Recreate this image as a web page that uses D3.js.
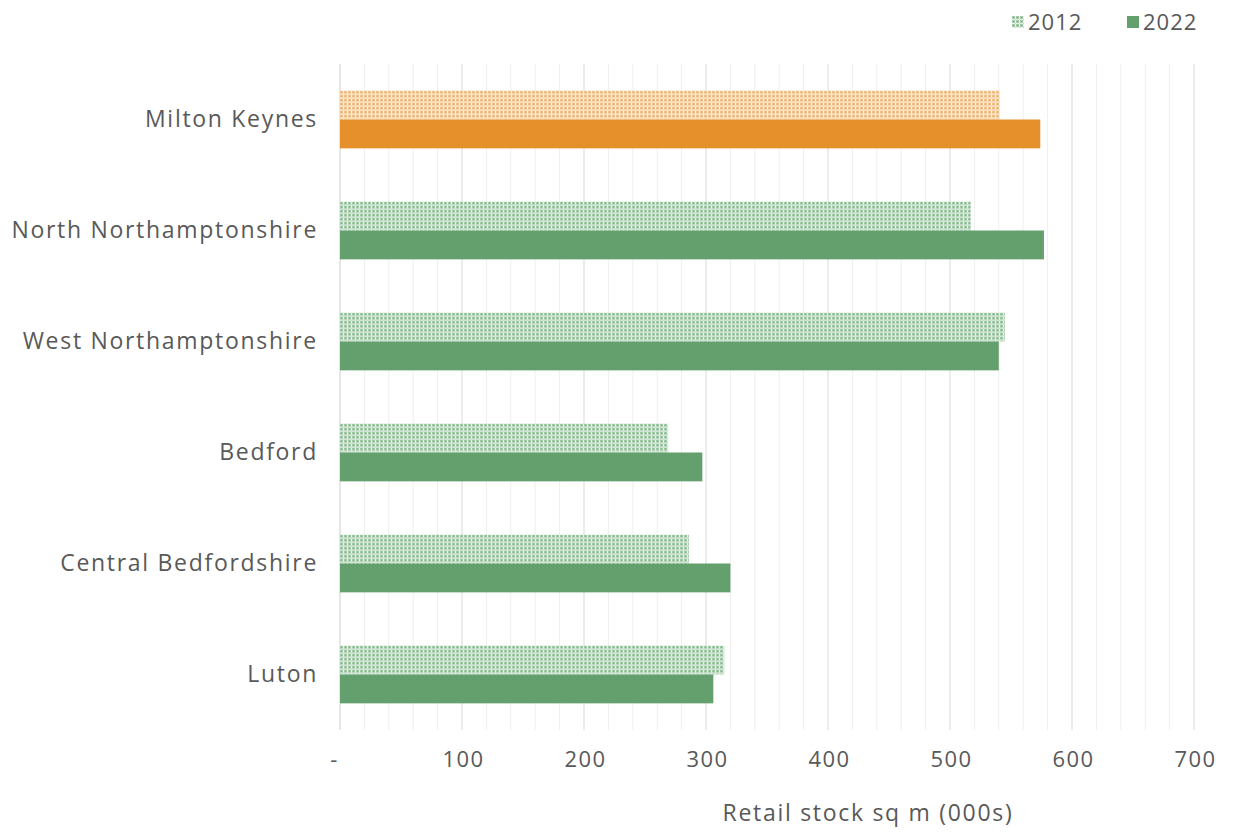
<!DOCTYPE html>
<html>
<head>
<meta charset="utf-8">
<script src="https://cdn.jsdelivr.net/npm/d3@7/dist/d3.min.js"></script>
<style>
  html, body { margin: 0; padding: 0; background: #ffffff; }
  svg { display: block; }
  text { font-family: "Open Sans", "Noto Sans", sans-serif; fill: #595959; }
</style>
</head>
<body>
<svg id="chart" width="1237" height="834"></svg>
<script>
// Retail stock by local authority (000s sq m)
const areas = ["Milton Keynes", "North Northamptonshire", "West Northamptonshire", "Bedford", "Central Bedfordshire", "Luton"];
const years = ["2012", "2022"];
const stock2012 = [541, 517, 545, 269, 286, 315];
const stock2022 = [574, 577, 540, 297, 320, 306];
const xTicks = [0, 100, 200, 300, 400, 500, 600, 700];
const xTickLabels = ["-", "100", "200", "300", "400", "500", "600", "700"];
const axisTitle = "Retail stock sq m (000s)";
const highlightArea = "Milton Keynes";

const rows = areas.map((a, i) => ({ area: a, values: [stock2012[i], stock2022[i]] }));

const svg = d3.select("#chart");
const margin = { left: 340, right: 43, top: 64, bottom: 104 };
const W = 1237, H = 834;

const x = d3.scaleLinear().domain([0, 700]).range([margin.left, W - margin.right]);
const y = d3.scaleBand().domain(areas).range([margin.top, H - margin.bottom]).paddingInner(0.48).paddingOuter(0.24);
const ySub = d3.scaleBand().domain(years).range([0, y.bandwidth()]);

const colors = {
  green: "#64a06d",
  orange: "#e5902a"
};

// Small checked fill for the 2012 bars
const defs = svg.append("defs");
function makePattern(id, base, light) {
  const p = defs.append("pattern").attr("id", id).attr("patternUnits", "userSpaceOnUse")
    .attr("width", 4).attr("height", 4);
  p.append("rect").attr("width", 4).attr("height", 4).attr("fill", light);
  p.append("rect").attr("x", 1).attr("y", 1).attr("width", 1).attr("height", 1).attr("fill", base).attr("opacity", 0.8);
  p.append("rect").attr("x", 3).attr("y", 0).attr("width", 1).attr("height", 4).attr("fill", "#ffffff").attr("opacity", 0.75);
  p.append("rect").attr("x", 0).attr("y", 3).attr("width", 4).attr("height", 1).attr("fill", "#ffffff").attr("opacity", 0.75);
  p.append("rect").attr("x", 3).attr("y", 3).attr("width", 1).attr("height", 1).attr("fill", base).attr("opacity", 0.35);
}
makePattern("pat-green", colors.green, "#a3caa9");
makePattern("pat-orange", colors.orange, "#f2c48c");

// Gridlines: minor every 20, major every 100
const minor = d3.range(20, 701, 20).filter(v => v % 100 !== 0);
const gridTop = margin.top, gridBottom = H - margin.bottom;
svg.append("g").selectAll("line").data(minor).join("line")
  .attr("x1", d => x(d)).attr("x2", d => x(d))
  .attr("y1", gridTop).attr("y2", gridBottom)
  .attr("stroke", "#efefef").attr("stroke-width", 1);
svg.append("g").selectAll("line").data(xTicks.slice(1)).join("line")
  .attr("x1", d => x(d)).attr("x2", d => x(d))
  .attr("y1", gridTop).attr("y2", gridBottom)
  .attr("stroke", "#e2e2e2").attr("stroke-width", 1.3);
svg.append("line")
  .attr("x1", x(0)).attr("x2", x(0)).attr("y1", gridTop).attr("y2", gridBottom)
  .attr("stroke", "#d9d9d9").attr("stroke-width", 1.3);

// Bars
const groups = svg.append("g").selectAll("g").data(rows).join("g")
  .attr("transform", d => `translate(0,${y(d.area)})`);
groups.selectAll("rect").data(d => d.values.map((v, j) => ({ area: d.area, year: years[j], v })))
  .join("rect")
  .attr("x", x(0))
  .attr("y", d => ySub(d.year))
  .attr("width", d => x(d.v) - x(0))
  .attr("height", ySub.bandwidth())
  .attr("fill", d => {
    const hue = d.area === highlightArea ? "orange" : "green";
    return d.year === "2012" ? `url(#pat-${hue})` : colors[hue];
  });

// Category labels
svg.append("g").selectAll("text").data(areas).join("text")
  .attr("x", 318)
  .attr("y", d => y(d) + y.bandwidth() / 2 - 2)
  .attr("text-anchor", "end")
  .attr("dominant-baseline", "central")
  .style("font-size", "23px")
  .style("letter-spacing", "1.7px")
  .text(d => d);

// X axis tick labels
const xAxis = d3.axisBottom(x).tickValues(xTicks).tickFormat((d, i) => xTickLabels[i]).tickSize(0).tickPadding(0);
const axisG = svg.append("g").attr("transform", `translate(0,${760})`).call(xAxis);
axisG.select(".domain").remove();
axisG.selectAll("text")
  .attr("dy", "0.3em")
  .style("font-size", "22px")
  .style("letter-spacing", "1.4px")
  .style("font-family", '"Open Sans", "Noto Sans", sans-serif')
  .attr("fill", "#595959")
  .attr("dx", d => d === 0 ? -6 : 1);

// Axis title
svg.append("text")
  .attr("x", 868).attr("y", 812)
  .attr("text-anchor", "middle")
  .attr("dominant-baseline", "central")
  .style("font-size", "23px")
  .style("letter-spacing", "1.7px")
  .text(axisTitle);

// Legend
const legendItems = [
  { label: "2012", fill: "url(#pat-green)", x: 1012 },
  { label: "2022", fill: colors.green, x: 1127 }
];
const lg = svg.append("g").selectAll("g").data(legendItems).join("g")
  .attr("transform", d => `translate(${d.x},0)`);
lg.append("rect").attr("x", 0).attr("y", 16).attr("width", 12).attr("height", 12).attr("fill", d => d.fill);
lg.append("text").attr("x", 16).attr("y", 21).attr("dominant-baseline", "central")
  .style("font-size", "22px").style("letter-spacing", "1px").text(d => d.label);
</script>
</body>
</html>
